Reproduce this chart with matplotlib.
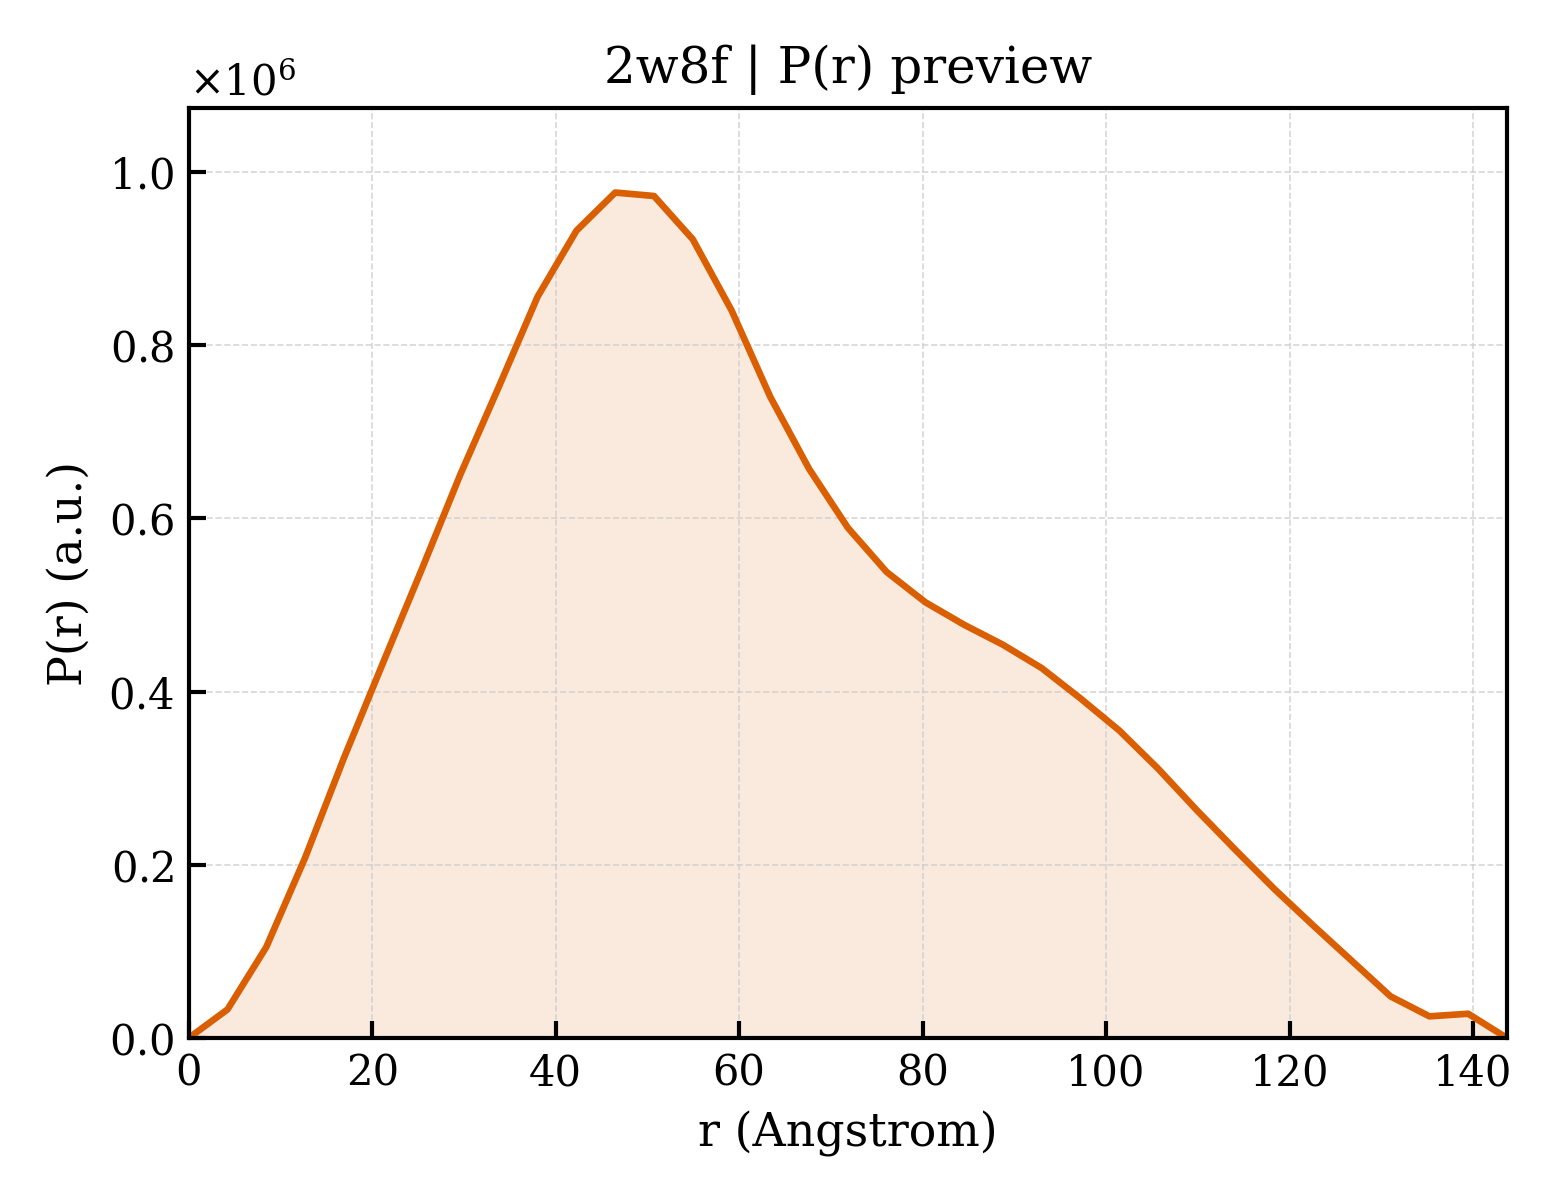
import numpy as np
import matplotlib
matplotlib.use("Agg")
import matplotlib.pyplot as plt
from matplotlib.ticker import ScalarFormatter

# P(r) values (35 points, 0 .. Dmax)
d_max = 143.7
r = np.linspace(0, d_max, 35)
pr = np.array([
    0.000, 0.033, 0.105, 0.208, 0.323, 0.432, 0.540, 0.650, 0.752, 0.856,
    0.932, 0.976, 0.972, 0.922, 0.840, 0.740, 0.657, 0.589, 0.538, 0.503,
    0.477, 0.454, 0.427, 0.392, 0.355, 0.311, 0.263, 0.217, 0.172, 0.130,
    0.089, 0.048, 0.025, 0.028, 0.000,
]) * 1e6

title = "2w8f | P(r) preview"
color = "#D95F02"

plt.rcParams["font.family"] = "DejaVu Serif"
plt.rcParams["mathtext.fontset"] = "dejavuserif"

fig = plt.figure(figsize=(5.2, 4), dpi=300)
ax = fig.add_axes([0.121, 0.135, 0.845, 0.775])

ax.plot(r, pr, color=color, lw=1.6)
ax.fill_between(r, pr, 0, color=color, alpha=0.13, lw=0)

ax.set_xlim(0, d_max)
ax.set_ylim(0, pr.max() * 1.1)
ax.set_xlabel("r (Angstrom)", fontsize=11)
ax.set_ylabel("P(r) (a.u.)", fontsize=11)
ax.set_title(title, fontsize=12)

fmt = ScalarFormatter(useMathText=True)
fmt.set_powerlimits((0, 0))
ax.yaxis.set_major_formatter(fmt)
ax.yaxis.get_offset_text().set_fontsize(10)

ax.tick_params(direction="in", labelsize=10, length=4, width=1)
for s in ax.spines.values():
    s.set_linewidth(1.0)
ax.grid(True, ls="--", lw=0.4, color="#cccccc", alpha=0.8)

fig.savefig("out.png", dpi=300)
